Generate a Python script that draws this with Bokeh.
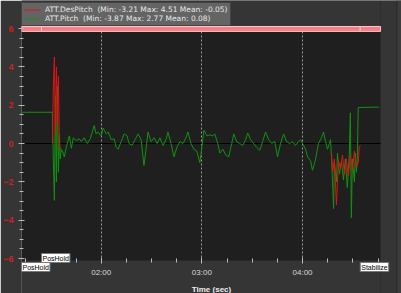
from bokeh.plotting import figure
from bokeh.models import Range1d, FixedTicker, Legend, LegendItem, Label
from bokeh.embed import file_html
from bokeh.resources import INLINE

nan = float("nan")

# ATT.Pitch (seconds, degrees)
pitch_t = [72.5, 90.9, 91.5, 92.1, 92.7, 93.3, 93.9, 94.5, 95.1, 95.6, 96.2, 97.4, 98.0, 99.2,
           101.0, 102.2, 103.4, 105.1, 106.9, 108.1, 109.9, 111.7, 113.5, 114.7, 115.8, 117.0,
           118.2, 120.0, 121.2, 123.0, 124.2, 126.0, 127.7, 128.9, 130.1, 131.9, 133.7, 135.4,
           136.6, 138.4, 140.2, 142.0, 143.8, 145.5, 146.7, 147.9, 149.7, 151.5, 153.3, 155.0,
           156.8, 158.6, 159.8, 161.6, 163.4, 165.1, 166.9, 168.7, 170.5, 171.7, 173.5, 175.2,
           177.0, 178.8, 180.0, 181.2, 183.0, 184.8, 186.5, 187.7, 189.5, 190.7, 192.5, 194.3,
           196.0, 197.8, 199.0, 200.8, 202.6, 204.4, 206.1, 207.3, 209.1, 210.9, 212.7, 214.5,
           216.2, 218.0, 219.8, 221.6, 223.4, 225.1, 226.9, 228.7, 230.5, 232.3, 234.1, 235.8,
           237.6, 238.8, 240.6, 241.8, 243.0, 244.8, 245.9, 247.7, 249.5, 251.3, 252.5, 253.7,
           254.9, 256.7, 257.3, 258.5, 259.0, 260.2, 260.8, 262.0, 263.2, 264.4, 265.5, 266.7,
           267.9, 268.5, 269.1, 269.7, 270.9, 271.5, 272.1, 272.6, 273.2, 285.7]
pitch_v = [1.63, 1.63, -1.0, -2.97, 2.5, -2.0, 3.0, -1.5, 0.5, -0.8, -0.3, -0.5, -0.7, -0.2,
           0.4, -0.25, 0.3, 0.15, 0.25, 0.1, 0.3, 0.0, 0.25, 0.6, 0.94, 0.5,
           0.6, 0.4, 0.8, 0.5, 0.6, 0.2, 0.25, -0.2, -0.3, 0.1, 0.5, 0.4,
           0.0, -0.1, 0.2, 0.5, 0.2, -1.15, -0.3, 0.6, 0.1, 0.3, 0.0, 0.3,
           -0.1, 0.2, 0.6, 0.0, -0.7, -0.2, 0.1, 0.0, 0.3, 0.6, 0.0, -0.3,
           -0.4, -1.0, -0.2, 0.7, 0.4, 0.45, 0.4, 0.5, 0.0, -0.5, -0.3, -0.6,
           -0.7, 0.0, 0.5, 0.1, 0.0, -0.1, 0.2, 0.55, 0.2, 0.0, -0.2, -0.35,
           0.1, 0.6, 0.2, 0.0, 0.1, -0.7, 0.0, 0.5, 0.1, 0.0, 0.1, -0.1,
           0.1, 0.2, -0.1, -0.3, -0.7, -0.9, -1.4, -0.85, 0.0, 0.3, 0.6, 0.1,
           -0.3, 0.2, -0.8, -3.4, -1.0, -2.0, -0.5, -1.6, -0.9, -1.9, -0.8, -2.3,
           -0.5, 1.6, -3.87, -0.8, -2.0, -0.5, -1.5, -0.9, 1.88, 1.9]

# ATT.DesPitch (gap where it is hidden)
des_t = [90.9, 91.5, 92.1, 92.7, 93.3, 93.9, 94.5, 95.1, 95.6, 96.0,
         257.3, 257.9, 259.0, 260.2, 261.4, 262.6, 263.8, 265.0, 266.1, 267.3,
         268.5, 269.7, 270.9, 272.1, 273.2, 273.8, 274.4]
des_v = [0.0, 3.0, 4.51, 0.5, 4.0, 1.0, 3.5, -0.1, -0.3, nan,
         -0.5, -1.5, -0.8, -3.21, -0.9, -1.3, -0.6, -1.6, -0.8, -1.7,
         -0.6, -1.4, -0.4, -1.2, -1.0, -0.2, -0.1]

mode_t = [72.5, 84.4, 274.4]
mode_end = [84.4, 274.4, 286.5]
mode_names = ["PosHold", "PosHold", "Stabilize"]
mode_label_y = [-6.21, -5.74, -6.21]

x_major = [120, 180, 240]
x_major_labels = ["02:00", "03:00", "04:00"]
x_minor = [75, 90, 105, 135, 150, 165, 195, 210, 225, 255, 270, 285]
y_major = [-6, -4, -2, 0, 2, 4, 6]
y_minor = [v / 2 for v in range(-12, 13)]

legend_labels = ["ATT.DesPitch  (Min: -3.21 Max: 4.51 Mean: -0.05)",
                 "ATT.Pitch  (Min: -3.87 Max: 2.77 Mean: 0.08)"]

X0, X1 = 72.5, 286.5              # plotting area
XR = 298.98                       # frame extends to the canvas edge
SPX = (X1 - X0) / 360.0           # seconds per pixel
Y_BOT, Y_TOP = -7.826, 7.461      # whole canvas height is the frame
PLOT_BOT, PLOT_TOP = -6.1, 6.104  # dark plotting area
BG = "#353535"

p = figure(width=401, height=293, output_backend="svg", toolbar_location=None,
           x_range=Range1d(X0, XR), y_range=Range1d(Y_BOT, Y_TOP),
           min_border_left=20, min_border_right=0, min_border_top=0, min_border_bottom=0)
p.title.visible = False
p.background_fill_color = "#1f1f1f"
p.border_fill_color = BG
p.outline_line_color = None

# gray margins inside the frame (above, below and right of the plotting area)
p.quad(left=[X0, X0, X1], right=[X1, X1, XR], bottom=[PLOT_TOP, Y_BOT, Y_BOT],
       top=[Y_TOP, PLOT_BOT, Y_TOP], fill_color=BG, line_color=None)
# window edge strip at the far right
p.quad(left=[X1 + 16 * SPX, X1 + 17 * SPX], right=[X1 + 17 * SPX, XR],
       bottom=Y_BOT, top=Y_TOP, fill_color=["#262626", "#3d3d3d"], line_color=None)

# axes
p.xaxis.fixed_location = PLOT_BOT
p.xaxis.ticker = FixedTicker(ticks=x_major, minor_ticks=x_minor)
p.xaxis.major_label_overrides = dict(zip(x_major, x_major_labels))
p.yaxis.ticker = FixedTicker(ticks=y_major, minor_ticks=y_minor)
for ax in (p.xaxis[0], p.yaxis[0]):
    ax.axis_line_color = None
    ax.major_tick_line_color = "#bbbbbb"
    ax.minor_tick_line_color = "#bbbbbb"
    ax.major_tick_in = 3
    ax.major_tick_out = 3
    ax.minor_tick_in = 2
    ax.minor_tick_out = 2
    ax.major_label_standoff = 5
p.xaxis.major_label_text_font_size = "8px"
p.xaxis.major_label_text_color = "#d8d8d8"
p.xaxis.major_label_text_font = "Liberation Sans"
p.xaxis.axis_label = "Time (sec)"
p.xaxis.axis_label_text_font_size = "8px"
p.xaxis.axis_label_text_font_style = "bold"
p.xaxis.axis_label_text_color = "#eeeeee"
p.xaxis.axis_label_text_font = "Liberation Sans"
p.xaxis.axis_label_standoff = 4
p.yaxis.major_label_text_font_size = "9px"
p.yaxis.major_label_text_font_style = "bold"
p.yaxis.major_label_text_color = "#cc2222"
p.yaxis.major_label_text_font = "Liberation Sans"

p.xgrid.grid_line_color = "#9a9a9a"
p.xgrid.grid_line_dash = "2 2"
p.ygrid.grid_line_color = None

# zero line across the plotting area
p.segment(x0=X0, y0=0, x1=X1, y1=0, line_color="#000000", line_width=1)

# mode band
p.quad(left=mode_t, right=mode_end, bottom=5.85, top=PLOT_TOP,
       fill_color="#f47f86", line_color="#f8c8c8", line_width=1)

g = p.line(pitch_t, pitch_v, line_color="#129212", line_width=1)
r = p.line(des_t, des_v, line_color="#e01414", line_width=1)

for t, name, yy in zip(mode_t, mode_names, mode_label_y):
    p.add_layout(Label(x=t, y=yy, text=name, text_baseline="top", text_font_size="7px",
                       text_font="Liberation Sans", text_color="#000000",
                       background_fill_color="#ffffff", border_line_color="#777777",
                       padding=1))

legend = Legend(items=[LegendItem(label=legend_labels[0], renderers=[r]),
                       LegendItem(label=legend_labels[1], renderers=[g])],
                location=(0, 267), padding=2, margin=0, spacing=0,
                glyph_height=7, glyph_width=16, label_height=7, label_standoff=5,
                label_text_font_size="7.5px", label_text_font="DejaVu Sans",
                label_text_color="#e8e8e8", label_text_line_height=1.0,
                background_fill_color="#646464", background_fill_alpha=1.0,
                border_line_color="#222222", border_line_width=1)
p.add_layout(legend, "center")

open("out.html", "w").write(file_html(p, INLINE))
